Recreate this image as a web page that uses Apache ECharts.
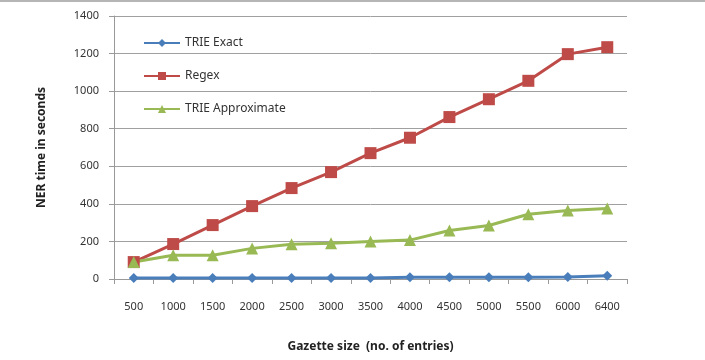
<!DOCTYPE html>
<html>
<head>
<meta charset="utf-8">
<script src="https://cdn.jsdelivr.net/npm/echarts@6/dist/echarts.min.js"></script>
<style>
  html, body { margin: 0; padding: 0; background: #fff; }
  #chart { width: 705px; height: 360px; box-sizing: border-box; border-top: 2px solid #b5b5b5; }
</style>
</head>
<body>
<div id="chart"></div>
<script>
// gazette sizes on the x axis
const gazetteSizes = ['500', '1000', '1500', '2000', '2500', '3000', '3500', '4000', '4500', '5000', '5500', '6000', '6400'];
// NER time in seconds
const trieExact = [5, 5, 5, 5, 5, 5, 5, 9, 9, 9, 9, 10, 17];
const regex = [90, 186, 287, 388, 484, 569, 670, 752, 862, 957, 1055, 1197, 1234];
const trieApprox = [90, 126, 126, 163, 185, 190, 200, 207, 258, 285, 345, 365, 375];
const yTicks = [0, 200, 400, 600, 800, 1000, 1200, 1400];

var myChart = echarts.init(document.getElementById('chart'));
const labelFont = { fontFamily: 'Noto Sans', fontSize: 11, color: '#333' };
const option = {
    animation: false,
    textStyle: { fontFamily: 'Noto Sans' },
    grid: {
        left: 114, // y 轴位置
        right: 78,
        top: 14,
        bottom: 81
    },
    legend: {
        orient: 'vertical',
        left: 138,
        top: 30,
        itemGap: 21,
        itemWidth: 36,
        itemHeight: 10,
        textStyle: { fontFamily: 'Noto Sans', fontSize: 12, color: '#333' },
        data: ['TRIE Exact', 'Regex', 'TRIE Approximate']
    },
    xAxis: {
        type: 'category',
        data: gazetteSizes,
        boundaryGap: true,
        name: 'Gazette size  (no. of entries)',
        nameLocation: 'middle',
        nameGap: 62,
        nameTextStyle: { fontFamily: 'Noto Sans', fontSize: 12, fontWeight: 'bold', color: '#222' },
        axisLine: { lineStyle: { color: '#999', width: 1 } },
        axisTick: { show: true, length: 5, lineStyle: { color: '#999' } },
        axisLabel: Object.assign({ margin: 22, interval: 0 }, labelFont)
    },
    yAxis: {
        type: 'value',
        min: yTicks[0],
        max: yTicks[yTicks.length - 1],
        interval: 200,
        name: 'NER time in seconds',
        nameLocation: 'middle',
        nameGap: 66,
        nameTextStyle: { fontFamily: 'Noto Sans', fontSize: 12, fontWeight: 'bold', color: '#222' },
        axisLine: { show: true, lineStyle: { color: '#999', width: 1 } },
        axisTick: { show: true, length: 5, lineStyle: { color: '#999' } },
        axisLabel: Object.assign({ margin: 15, formatter: v => String(v) }, labelFont),
        splitLine: { lineStyle: { color: '#a0a0a0', width: 1 } }
    },
    series: [
        {
            name: 'TRIE Exact',
            type: 'line',
            data: trieExact,
            symbol: 'diamond',
            symbolSize: 10,
            lineStyle: { color: '#4a7ebb', width: 3 },
            itemStyle: { color: '#4a7ebb' }
        },
        {
            name: 'Regex',
            type: 'line',
            data: regex,
            symbol: 'rect',
            symbolSize: 12,
            lineStyle: { color: '#be4b48', width: 3 },
            itemStyle: { color: '#be4b48' }
        },
        {
            name: 'TRIE Approximate',
            type: 'line',
            data: trieApprox,
            symbol: 'triangle',
            symbolSize: 12,
            lineStyle: { color: '#98b954', width: 3 },
            itemStyle: { color: '#98b954' }
        }
    ]
};
myChart.setOption(option);
</script>
</body>
</html>
